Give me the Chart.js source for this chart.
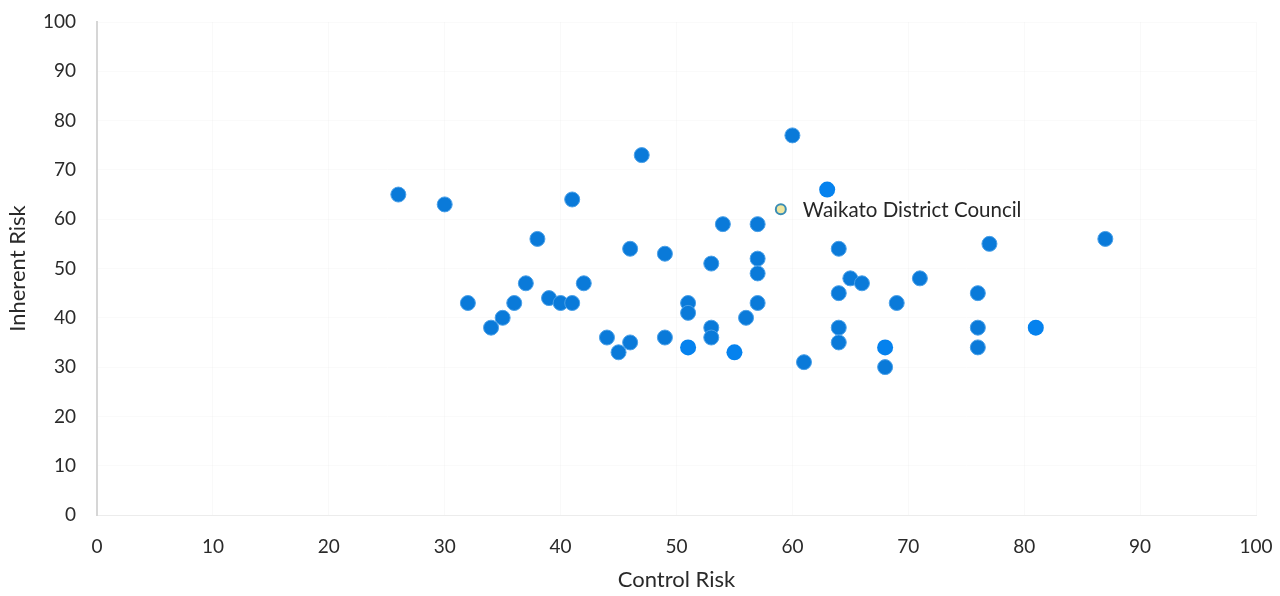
<!DOCTYPE html>
<html>
<head>
<meta charset="utf-8">
<script src="https://cdn.jsdelivr.net/npm/chart.js@4.4.1/dist/chart.umd.min.js"></script>
<style>
  html, body { margin: 0; padding: 0; background: #fff; }
  #wrap { width: 1280px; height: 596px; }
</style>
</head>
<body>
<div id="wrap"><canvas id="risk"></canvas></div>
<script>
// councils plotted as control risk (x) vs inherent risk (y)
const controlRisk = [26, 30, 32, 34, 35, 36, 37, 38, 39, 40, 41, 41, 42, 44, 45, 46, 46, 47, 49, 49,
  51, 51, 53, 53, 53, 54, 56, 57, 57, 57, 57, 60, 61, 64, 64, 64, 64, 65, 66, 68, 69, 71, 76, 76, 76, 77, 87];
const inherentRisk = [65, 63, 43, 38, 40, 43, 47, 56, 44, 43, 43, 64, 47, 36, 33, 35, 54, 73, 53, 36,
  43, 41, 51, 38, 36, 59, 40, 59, 52, 49, 43, 77, 31, 54, 45, 38, 35, 48, 47, 30, 43, 48, 45, 38, 34, 55, 56];

// the few markers drawn slightly larger / flatter in the source
const extraControl = [51, 55, 63, 68, 81];
const extraInherent = [34, 33, 66, 34, 38];

const highlightName = "Waikato District Council";
const highlightControl = [59];
const highlightInherent = [62];

const xTicks = [0, 10, 20, 30, 40, 50, 60, 70, 80, 90, 100];
const yTicks = [0, 10, 20, 30, 40, 50, 60, 70, 80, 90, 100];

function toPoints(xs, ys) {
  return xs.map((x, i) => ({ x, y: ys[i] }));
}

const FONT = "Lato, 'Open Sans', sans-serif";
const TEXT = "#2a2a2a";

const pointLabel = {
  id: "pointLabel",
  afterDatasetsDraw(chart) {
    const el = chart.getDatasetMeta(2).data[0];
    if (!el) return;
    const ctx = chart.ctx;
    ctx.save();
    ctx.font = "20.5px " + FONT;
    ctx.fillStyle = "#262626";
    ctx.textAlign = "left";
    ctx.textBaseline = "middle";
    ctx.fillText(highlightName, el.x + 22, el.y + 1);
    ctx.restore();
  },
};

new Chart(document.getElementById("risk"), {
  type: "scatter",
  data: {
    datasets: [
      {
        data: toPoints(controlRisk, inherentRisk),
        backgroundColor: "#0a7ad9",
        borderColor: "#4aa0e8",
        borderWidth: 1,
        pointRadius: 7.5,
      },
      {
        data: toPoints(extraControl, extraInherent),
        backgroundColor: "#0582ee",
        borderWidth: 0,
        pointRadius: 8,
      },
      {
        data: toPoints(highlightControl, highlightInherent),
        backgroundColor: "#efe6a0",
        borderColor: "#3b8db4",
        borderWidth: 2,
        pointRadius: 5,
      },
    ],
  },
  options: {
    responsive: true,
    maintainAspectRatio: false,
    animation: false,
    layout: { padding: 0 },
    plugins: { legend: { display: false }, tooltip: { enabled: false } },
    scales: {
      x: {
        min: 0,
        max: 100,
        afterBuildTicks(scale) { scale.ticks = xTicks.map((v) => ({ value: v })); },
        afterFit(scale) {
          scale.height = 81;
          scale.paddingRight = 24;
          scale.paddingLeft = 0;
        },
        grid: { color: "rgba(0,0,0,0.025)", drawTicks: false },
        border: { color: "#ececec", width: 1 },
        ticks: { color: TEXT, font: { family: FONT, size: 19 }, padding: 20 },
        title: { display: true, text: "Control Risk", color: TEXT, font: { family: FONT, size: 22 }, padding: { top: 8, bottom: 3 } },
      },
      y: {
        min: 0,
        max: 100,
        afterBuildTicks(scale) { scale.ticks = yTicks.map((v) => ({ value: v })); },
        afterFit(scale) {
          scale.width = 97;
          scale.paddingTop = 22;
          scale.paddingBottom = 0;
        },
        grid: { color: "rgba(0,0,0,0.02)", drawTicks: false },
        border: { color: "#d6d6d6", width: 2 },
        ticks: { color: TEXT, font: { family: FONT, size: 19 }, padding: 21 },
        title: { display: true, text: "Inherent Risk", color: TEXT, font: { family: FONT, size: 22 }, padding: { top: 5, bottom: 0 } },
      },
    },
  },
  plugins: [pointLabel],
});
</script>
</body>
</html>
